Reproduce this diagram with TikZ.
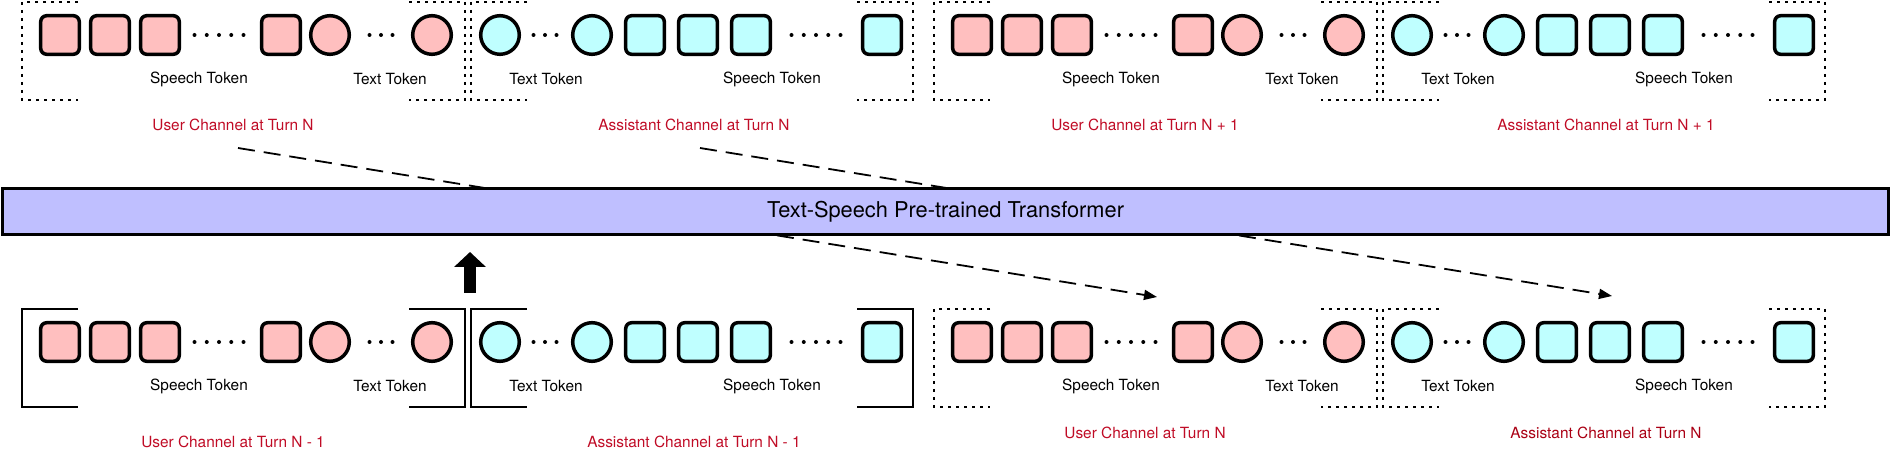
\documentclass[tikz,border=0pt]{standalone}
\usepackage{fontspec}
\setmainfont{TeX Gyre Heros}
\usetikzlibrary{arrows.meta}

\begin{document}
\begin{tikzpicture}[x=0.5pt, y=-0.5pt,
  tok/.style={draw, line width=1.75pt, minimum size=19.3pt, inner sep=0pt},
  sptok/.style={tok, rectangle, rounded corners=3pt},
  txtok/.style={tok, circle},
  toklab/.style={font=\fontsize{7.7}{9}\selectfont, inner sep=0pt},
  chanlab/.style={toklab, text=#1},
  dotbox/.style={line width=1.1pt, dash pattern=on 1.5pt off 2.5pt},
  solbox/.style={line width=1pt},
  flow/.style={line width=0.9pt, dash pattern=on 8.5pt off 4.5pt, -{Triangle[length=6.5pt,width=5pt]}},
  tfbar/.style={draw, line width=1.2pt, fill=tffill, minimum width=943pt, minimum height=23pt, font=\fontsize{10.9}{13}\selectfont}]
  % Define colors
  \definecolor{userfill}{RGB}{255,191,191}
  \definecolor{asstfill}{RGB}{191,255,255}
  \definecolor{tffill}{RGB}{191,191,255}
  \definecolor{chanred}{RGB}{192,12,38}
  \definecolor{chandark}{RGB}{170,0,20}

  \useasboundingbox (0,0) rectangle (1891,458);

  % Flow from turn N (top) to turn N (bottom), behind the transformer
  \coordinate (fu-start) at (238,148);
  \coordinate (fu-end) at (1157,297);
  \coordinate (fa-start) at (700,148);
  \coordinate (fa-end) at (1612,296);
  \draw[flow] (fu-start) -- (fu-end);
  \draw[flow] (fa-start) -- (fa-end);

  % Transformer
  \node[tfbar] (tf) at (945.5,211.5) {Text-Speech Pre-trained Transformer};

  % User channels
  \foreach \nm/\px/\py/\ly/\bx/\lab/\lc in {
      tu/22/35/125/dotbox/{User Channel at Turn N}/chanred,
      tu1/934/35/125/dotbox/{User Channel at Turn N + 1}/chanred,
      bu0/22/342/442/solbox/{User Channel at Turn N - 1}/chanred,
      bu/934/342/433/dotbox/{User Channel at Turn N}/chanred} {
    \draw[\bx] (\px+56,\py-33) -- (\px,\py-33) -- (\px,\py+65) -- (\px+56,\py+65);
    \draw[\bx] (\px+387,\py-33) -- (\px+443,\py-33) -- (\px+443,\py+65) -- (\px+387,\py+65);
    \foreach \k/\dx in {1/38,2/88,3/138,4/259}
      \node[sptok, fill=userfill] (\nm-s\k) at (\px+\dx,\py) {};
    \foreach \i in {0,...,4}
      \fill (\px+172.5+12.25*\i,\py) circle (1pt);
    \node[txtok, fill=userfill] (\nm-t1) at (\px+308,\py) {};
    \node[txtok, fill=userfill] (\nm-t2) at (\px+410,\py) {};
    \foreach \i in {0,1,2}
      \fill (\px+347.5+11.5*\i,\py) circle (1pt);
    \node[toklab] (\nm-sl) at (\px+177,\py+44) {Speech Token};
    \node[toklab] (\nm-tl) at (\px+368,\py+44) {Text Token};
    \node[chanlab=\lc] (\nm-lab) at (\px+211,\ly) {\lab};
  }

  % Assistant channels
  \foreach \nm/\px/\py/\ly/\bx/\lab/\lc in {
      ta/471/35/125/dotbox/{Assistant Channel at Turn N}/chanred,
      ta1/1383/35/125/dotbox/{Assistant Channel at Turn N + 1}/chanred,
      ba0/471/342/442/solbox/{Assistant Channel at Turn N - 1}/chanred,
      ba/1383/342/433/dotbox/{Assistant Channel at Turn N}/chandark} {
    \draw[\bx] (\px+56,\py-33) -- (\px,\py-33) -- (\px,\py+65) -- (\px+56,\py+65);
    \draw[\bx] (\px+386,\py-33) -- (\px+442,\py-33) -- (\px+442,\py+65) -- (\px+386,\py+65);
    \node[txtok, fill=asstfill] (\nm-t1) at (\px+29,\py) {};
    \node[txtok, fill=asstfill] (\nm-t2) at (\px+121,\py) {};
    \foreach \i in {0,1,2}
      \fill (\px+62.5+11.5*\i,\py) circle (1pt);
    \foreach \k/\dx in {1/174,2/227,3/280,4/411}
      \node[sptok, fill=asstfill] (\nm-s\k) at (\px+\dx,\py) {};
    \foreach \i in {0,...,4}
      \fill (\px+320.5+12.25*\i,\py) circle (1pt);
    \node[toklab] (\nm-tl) at (\px+75,\py+44) {Text Token};
    \node[toklab] (\nm-sl) at (\px+301,\py+44) {Speech Token};
    \node[chanlab=\lc] (\nm-lab) at (\px+223,\ly) {\lab};
  }

  % Input goes up into the transformer
  \coordinate (up-foot) at (470,293);
  \coordinate (up-tip) at (470,252);
  \draw[line width=6pt, -{Triangle[length=7.5pt,width=15.5pt]}] (up-foot) -- (up-tip);
\end{tikzpicture}
\end{document}
